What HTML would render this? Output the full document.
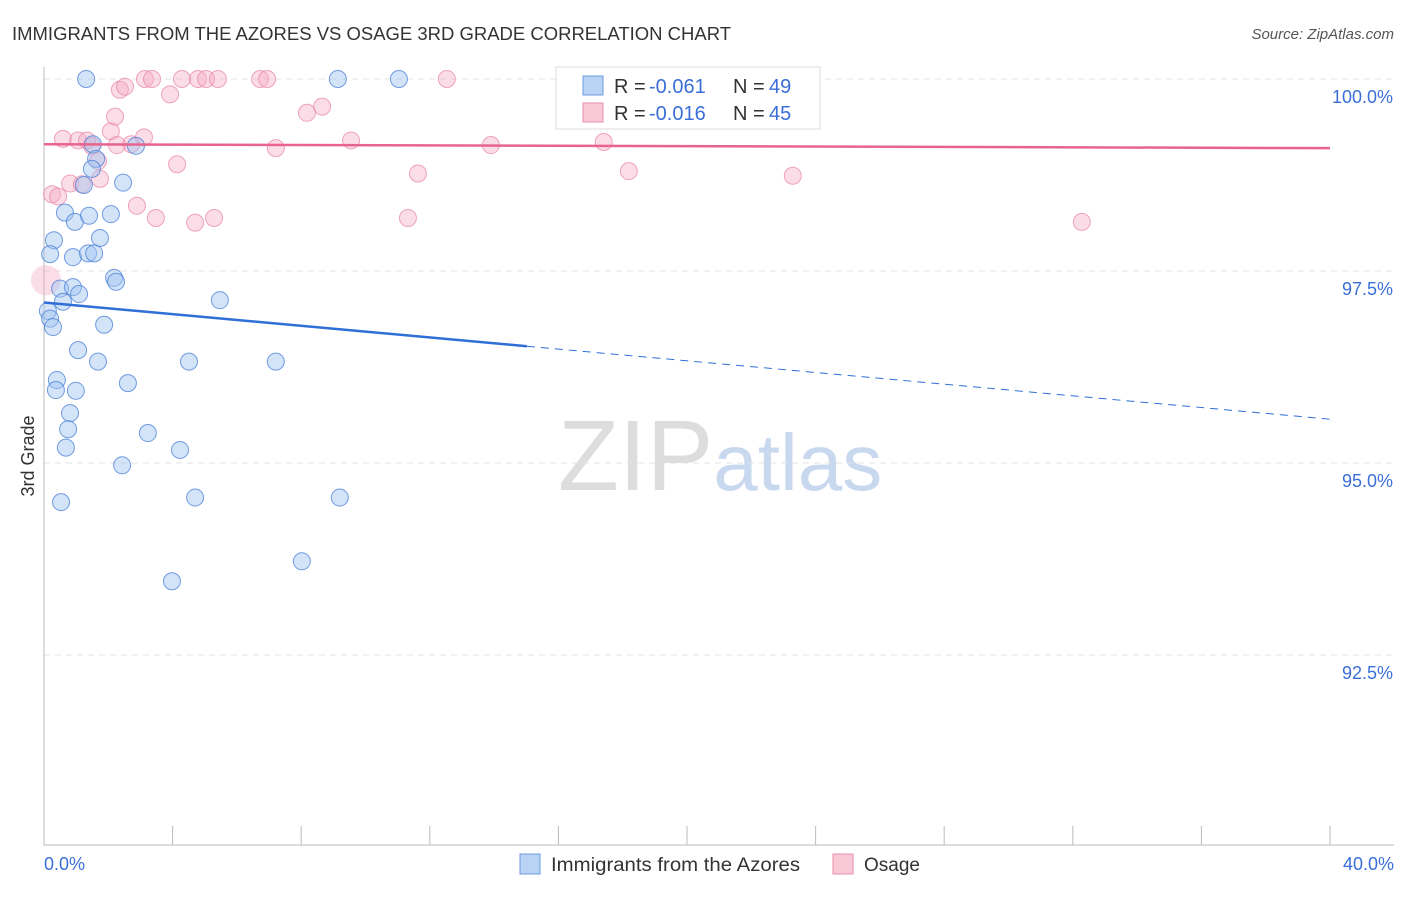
<!DOCTYPE html>
<html><head><meta charset="utf-8"><style>
body{margin:0;background:#fff;font-family:"Liberation Sans",sans-serif;}
svg text{font-family:"Liberation Sans",sans-serif;}
</style></head><body>
<svg width="1406" height="892" xmlns="http://www.w3.org/2000/svg">
<text x="12" y="40" font-size="18" fill="#333" textLength="719" lengthAdjust="spacingAndGlyphs">IMMIGRANTS FROM THE AZORES VS OSAGE 3RD GRADE CORRELATION CHART</text>
<text x="1394" y="39" font-size="15" fill="#555" text-anchor="end" font-style="italic">Source: ZipAtlas.com</text>
<text x="720" y="490" font-size="100" text-anchor="middle" fill="#ddd" font-family="Liberation Serif">ZIP<tspan fill="#c8d8ef" font-family="Liberation Sans" font-size="80">atlas</tspan></text>
<g id="grid"></g>
<g id="axes"></g>
<g id="marks"></g>
<text transform="translate(34,456) rotate(-90)" font-size="18" fill="#333" text-anchor="middle">3rd Grade</text>
<g>
<rect x="556" y="67" width="264" height="62" fill="#fff" stroke="#ddd"/>
<rect x="583" y="76" width="20" height="19" fill="#b9d3f5" stroke="#6a9be0"/>
<text x="614" y="93" font-size="20" fill="#333">R = </text>
<text x="649" y="93" font-size="20" fill="#3a6fd8">-0.061</text>
<text x="733" y="93" font-size="20" fill="#333">N = </text>
<text x="769" y="93" font-size="20" fill="#3a6fd8">49</text>
<rect x="583" y="103" width="20" height="19" fill="#f9c8d6" stroke="#ea8fac"/>
<text x="614" y="120" font-size="20" fill="#333">R = </text>
<text x="649" y="120" font-size="20" fill="#3a6fd8">-0.016</text>
<text x="733" y="120" font-size="20" fill="#333">N = </text>
<text x="769" y="120" font-size="20" fill="#3a6fd8">45</text>
</g>
<g>
<rect x="520" y="854" width="20" height="20" fill="#b9d3f5" stroke="#6a9be0"/>
<text x="551" y="871" font-size="19" fill="#333" textLength="249" lengthAdjust="spacingAndGlyphs">Immigrants from the Azores</text>
<rect x="833" y="854" width="20" height="20" fill="#f9c8d6" stroke="#ea8fac"/>
<text x="864" y="871" font-size="19" fill="#333">Osage</text>
</g>
</svg>
<script>
const yTicks=[100,97.5,95,92.5];
const yTickLabels=["100.0%","97.5%","95.0%","92.5%"];
const xTickLabels=["0.0%","40.0%"];
const blueX=[1.31,9.14,11.04,1.52,2.86,1.62,1.49,1.24,2.46,0.65,0.96,1.4,2.08,0.31,1.74,0.19,0.9,1.37,1.56,2.18,2.24,0.5,0.9,1.09,0.59,5.47,0.12,0.19,0.28,1.87,1.06,1.68,4.51,7.21,0.4,0.37,0.99,2.61,0.81,0.75,0.68,3.23,4.23,2.43,0.53,4.7,9.2,8.02,3.98];
const blueY=[100,100,100,99.15,99.13,98.96,98.83,98.62,98.65,98.26,98.14,98.22,98.24,97.9,97.93,97.72,97.68,97.73,97.73,97.41,97.36,97.27,97.29,97.2,97.1,97.12,96.98,96.88,96.77,96.8,96.47,96.32,96.32,96.32,96.08,95.95,95.94,96.04,95.65,95.44,95.2,95.39,95.17,94.97,94.49,94.55,94.55,93.72,93.46];
const pinkX=[0.59,0.25,0.44,0.81,1.18,1.06,1.34,1.68,1.74,2.08,2.21,2.71,3.11,2.36,2.52,3.14,3.36,3.92,4.29,4.79,5.04,5.41,6.72,6.94,4.14,2.89,3.48,4.7,5.29,7.21,8.18,8.65,9.55,11.63,11.32,12.53,13.9,17.41,18.19,23.29,32.28,0.06,22.7,1.49,2.27];
const pinkY=[99.22,98.5,98.47,98.64,98.63,99.2,99.2,98.93,98.7,99.32,99.51,99.15,99.24,99.86,99.9,100,100,99.8,100,100,100,100,100,100,98.89,98.35,98.19,98.13,98.19,99.1,99.56,99.64,99.2,98.77,98.19,100,99.14,99.18,98.8,98.74,98.14,97.38,99.98,99.13,99.14];
const blueTrend=[[0,97.09],[15.02,96.52],[40,95.57]];
const pinkTrend=[[0,99.15],[40,99.1]];
const NS="http://www.w3.org/2000/svg";
const X=v=>44+v/40*1286, Y=v=>79+(100-v)/2.5*192;
function mk(tag,attrs,parent){const e=document.createElementNS(NS,tag);for(const k in attrs)e.setAttribute(k,attrs[k]);parent.appendChild(e);return e;}
const grid=document.getElementById('grid'),axes=document.getElementById('axes'),marks=document.getElementById('marks');
yTicks.forEach((t,i)=>{
 const l=mk('line',{x1:44,x2:1394,y1:Y(t),y2:Y(t),stroke:'#e3e3e3','stroke-dasharray':'6,5'},grid);
 
 
 const tx=mk('text',{x:1393,y:Y(t)+24,'font-size':18,fill:'#3a6fd8','text-anchor':'end'},axes);
 tx.textContent=yTickLabels[i];
 
 
});
const ax=mk('line',{x1:44,x2:44,y1:67,y2:845,stroke:'#bbb'},axes);


const bx=mk('line',{x1:44,x2:1394,y1:845,y2:845,stroke:'#bbb'},axes);


for(let i=0;i<=10;i++){const t=mk('line',{x1:X(i*4),x2:X(i*4),y1:826,y2:845,stroke:'#bbb'},axes);
 
 }
[[0,'start',44],[40,'end',1394]].forEach((d,i)=>{const t=mk('text',{x:d[2],y:870,'font-size':18,fill:'#3a6fd8','text-anchor':d[1]},axes);t.textContent=xTickLabels[i];
 
 });
pinkX.forEach((x,i)=>{const c=mk('circle',{cx:X(x),cy:Y(pinkY[i]),r:i==41?15:8.5,fill:'rgba(246,170,195,0.4)',stroke:i==41?'none':'rgba(232,130,165,0.7)','stroke-width':1},marks);
 
 });
blueX.forEach((x,i)=>{const c=mk('circle',{cx:X(x),cy:Y(blueY[i]),r:8.5,fill:'rgba(160,195,240,0.45)',stroke:'rgba(70,125,215,0.75)','stroke-width':1},marks);
 
 });
const pl=mk('line',{x1:X(pinkTrend[0][0]),y1:Y(pinkTrend[0][1]),x2:X(pinkTrend[1][0]),y2:Y(pinkTrend[1][1]),stroke:'#e8648e','stroke-width':2.5},marks);


const bl=mk('line',{x1:X(blueTrend[0][0]),y1:Y(blueTrend[0][1]),x2:X(blueTrend[1][0]),y2:Y(blueTrend[1][1]),stroke:'#2f6fd6','stroke-width':2.5},marks);


const bd=mk('line',{x1:X(blueTrend[1][0]),y1:Y(blueTrend[1][1]),x2:X(blueTrend[2][0]),y2:Y(blueTrend[2][1]),stroke:'#2f6fd6','stroke-width':1,'stroke-dasharray':'8,6'},marks);


</script>
</body></html>
